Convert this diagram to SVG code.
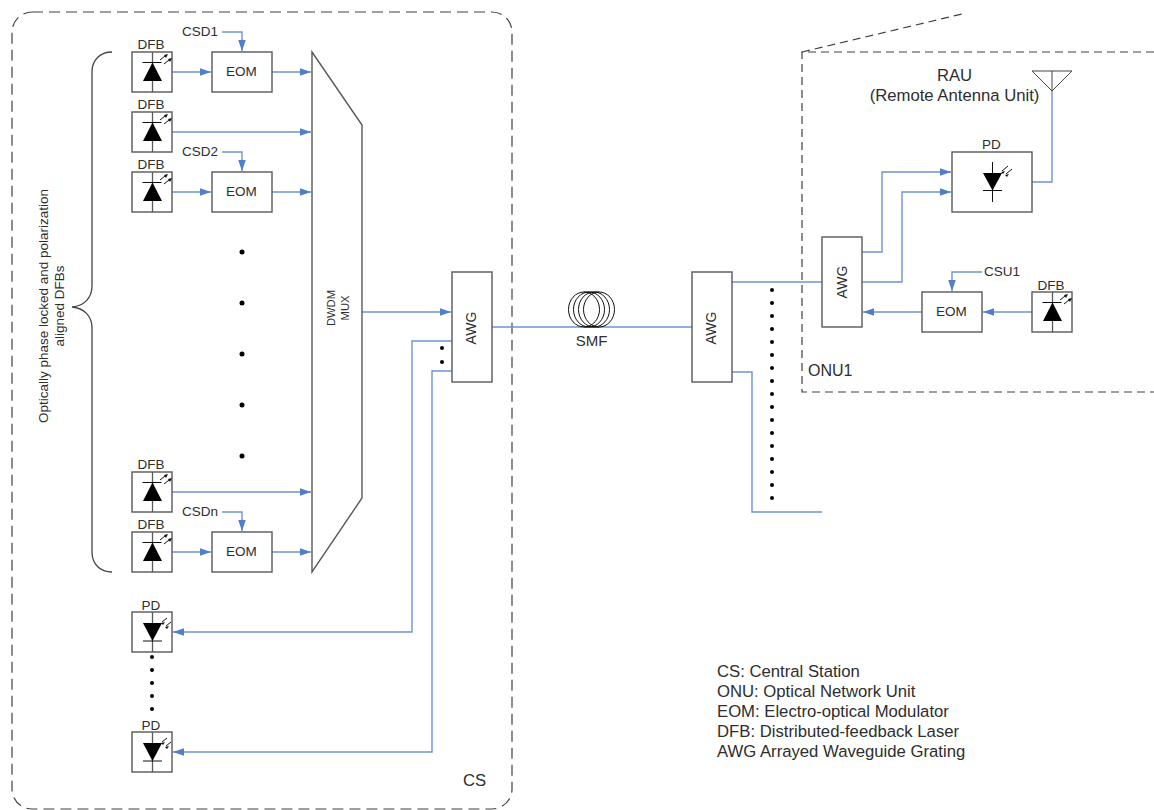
<svg xmlns="http://www.w3.org/2000/svg" xmlns:xlink="http://www.w3.org/1999/xlink" width="1154" height="810" viewBox="0 0 1154 810">
<style>
text{font-family:"Liberation Sans",Arial,sans-serif;fill:#2e2e2e}
.box{fill:#fff;stroke:#595959;stroke-width:1.4}
.dash{fill:none;stroke:#404040;stroke-width:1.2}
.d1{stroke-dasharray:11 6}
.d2{stroke-dasharray:8 5}
.c{fill:none;stroke:#6d94d2;stroke-width:1.4}
.a{marker-end:url(#arr)}
.s12{font-size:13.5px}
.s14{font-size:14px}
.s15{font-size:15px}
.s16{font-size:16.7px}
.m{text-anchor:middle}
.sym{stroke:#111;stroke-width:1;fill:none}
.dot{fill:#000}
</style>
<defs>
<marker id="arr" markerUnits="userSpaceOnUse" markerWidth="12" markerHeight="8" refX="11" refY="4" orient="auto"><path d="M0 0.2L11 4L0 7.8z" fill="#4f7fcb"/></marker>
<g id="dfb">
<rect class="box" width="40" height="40"/>
<path d="M20.5 0V40" stroke="#595959" stroke-width="1.3"/>
<path d="M10.5 10.5H29.5" class="sym"/><path d="M20.5 10.5L30 29H11z" fill="#000"/>
<path d="M28 8l5-4M32 12l5-4" stroke="#111" stroke-width="1"/>
<path d="M36 2l-4 1l2 3zM40 6l-4 1l2 3z" fill="#111"/>
</g>
<g id="pdi">
<rect class="box" width="40" height="40"/>
<path d="M20.5 0V40" stroke="#595959" stroke-width="1.3"/>
<path d="M11 29H30" class="sym"/><path d="M11 11H30L20.5 29z" fill="#000"/>
<path d="M30 10l5-4M34 14l5-4" stroke="#111" stroke-width="1"/>
<path d="M29 11l4-1l-2 3zM33 15l4-1l-2 3z" fill="#111"/>
</g>
<g id="eom"><rect class="box" width="60" height="40"/><text class="s12 m" x="29.5" y="24">EOM</text></g>
</defs>

<g id="cs-boundary"><rect class="dash d1" x="12" y="12" width="500" height="797" rx="20"/><text class="s16" x="463" y="786">CS</text></g>
<g id="onu-boundary"><path class="dash d2" d="M1154 52H802V392H1154"/><path class="dash d2" d="M802 52L962 14"/><text class="s16" x="808" y="376" style="font-size:16px">ONU1</text></g>

<g id="connectors">
<path class="c a" d="M172 72H211"/><path class="c a" d="M272 72H311"/>
<path class="c a" d="M172 132H311"/>
<path class="c a" d="M172 192H211"/><path class="c a" d="M272 192H311"/>
<path class="c a" d="M172 492H311"/>
<path class="c a" d="M172 552H211"/><path class="c a" d="M272 552H311"/>
<path class="c a" d="M222 32H242V51"/><path class="c a" d="M222 152H242V171"/><path class="c a" d="M222 512H242V531"/>
<path class="c a" d="M362 312H451"/>
<path class="c" d="M492 327H692"/>
<path class="c a" d="M452 341H412V632H173"/>
<path class="c a" d="M452 371H432V752H173"/>
<path class="c" d="M732 282H822"/>
<path class="c" d="M732 372H752V512H822"/>
<path class="c a" d="M862 252H882V172H951"/>
<path class="c a" d="M862 282H902V192H951"/>
<path class="c" d="M1032 182H1052V91"/>
<path class="c a" d="M1032 312H983"/>
<path class="c a" d="M922 312H863"/>
<path class="c a" d="M982 272H952V291"/>
</g>

<g id="brace"><path d="M112 52C100 52 92 60 92 72V286C92 298 84 306 72 307C84 308 92 316 92 328V552C92 564 100 572 112 572" fill="none" stroke="#444" stroke-width="1.3"/></g>
<text class="s12 m" transform="translate(48 306) rotate(-90)"><tspan x="0" y="0">Optically phase locked and polarization</tspan><tspan x="0" y="16">aligned DFBs</tspan></text>

<g id="dfb1"><use xlink:href="#dfb" href="#dfb" x="132" y="52"/><text class="s12 m" x="151" y="49">DFB</text></g>
<g id="dfb2"><use xlink:href="#dfb" href="#dfb" x="132" y="112"/><text class="s12 m" x="151" y="109">DFB</text></g>
<g id="dfb3"><use xlink:href="#dfb" href="#dfb" x="132" y="172"/><text class="s12 m" x="151" y="169">DFB</text></g>
<g id="dfb4"><use xlink:href="#dfb" href="#dfb" x="132" y="472"/><text class="s12 m" x="151" y="469">DFB</text></g>
<g id="dfb5"><use xlink:href="#dfb" href="#dfb" x="132" y="532"/><text class="s12 m" x="151" y="529">DFB</text></g>
<g id="eom1"><use xlink:href="#eom" href="#eom" x="212" y="52"/></g>
<g id="eom2"><use xlink:href="#eom" href="#eom" x="212" y="172"/></g>
<g id="eom3"><use xlink:href="#eom" href="#eom" x="212" y="532"/></g>
<text class="s12" x="182" y="36">CSD1</text>
<text class="s12" x="182" y="156">CSD2</text>
<text class="s12" x="182" y="516">CSDn</text>

<g id="mux"><path class="box" d="M312 52L362 125V498L312 572z"/><text class="m" font-size="11.2" transform="translate(335 308) rotate(-90)"><tspan x="0" y="0">DWDM</tspan><tspan x="0" y="14">MUX</tspan></text></g>

<g id="dots-col">
<circle class="dot" cx="242" cy="252" r="2.5"/><circle class="dot" cx="242" cy="303" r="2.5"/><circle class="dot" cx="242" cy="354" r="2.5"/><circle class="dot" cx="242" cy="405" r="2.5"/><circle class="dot" cx="242" cy="456" r="2.5"/>
</g>
<g id="dots-pd">
<circle class="dot" cx="152" cy="657" r="2"/><circle class="dot" cx="152" cy="670" r="2"/><circle class="dot" cx="152" cy="683" r="2"/><circle class="dot" cx="152" cy="696" r="2"/><circle class="dot" cx="152" cy="709" r="2"/>
</g>
<g id="dots-awg"><circle class="dot" cx="442" cy="348" r="2"/><circle class="dot" cx="442" cy="362" r="2"/></g>
<g id="dots-onu">
<circle class="dot" cx="772" cy="290" r="2"/><circle class="dot" cx="772" cy="303" r="2"/><circle class="dot" cx="772" cy="316" r="2"/><circle class="dot" cx="772" cy="329" r="2"/><circle class="dot" cx="772" cy="342" r="2"/><circle class="dot" cx="772" cy="355" r="2"/><circle class="dot" cx="772" cy="368" r="2"/><circle class="dot" cx="772" cy="381" r="2"/><circle class="dot" cx="772" cy="394" r="2"/><circle class="dot" cx="772" cy="407" r="2"/><circle class="dot" cx="772" cy="420" r="2"/><circle class="dot" cx="772" cy="433" r="2"/><circle class="dot" cx="772" cy="446" r="2"/><circle class="dot" cx="772" cy="459" r="2"/><circle class="dot" cx="772" cy="472" r="2"/><circle class="dot" cx="772" cy="485" r="2"/><circle class="dot" cx="772" cy="498" r="2"/>
</g>

<g id="pd1"><use xlink:href="#pdi" href="#pdi" x="132" y="612"/><text class="s12 m" x="151" y="610">PD</text></g>
<g id="pd2"><use xlink:href="#pdi" href="#pdi" x="132" y="732"/><text class="s12 m" x="151" y="730">PD</text></g>

<g id="awg1"><rect class="box" x="452" y="272" width="40" height="110"/><text class="s14 m" transform="translate(476 328) rotate(-90)">AWG</text></g>
<g id="awg2"><rect class="box" x="692" y="272" width="40" height="110"/><text class="s14 m" transform="translate(716 328) rotate(-90)">AWG</text></g>

<g id="smf">
<path d="M584 292H599M584 327H599" stroke="#333" fill="none"/>
<ellipse class="sym" cx="584" cy="309.5" rx="15.5" ry="17.5"/>
<ellipse class="sym" cx="589" cy="309.5" rx="15.5" ry="17.5"/>
<ellipse class="sym" cx="594" cy="309.5" rx="15.5" ry="17.5"/>
<ellipse class="sym" cx="599" cy="309.5" rx="15.5" ry="17.5"/>
<text class="s15 m" x="591.5" y="346">SMF</text>
</g>

<g id="awg3"><rect class="box" x="822" y="237" width="40" height="90"/><text class="s14 m" transform="translate(847 282) rotate(-90)">AWG</text></g>
<g id="pd3"><rect class="box" x="952" y="152" width="80" height="60"/>
<path d="M992.5 162V202M983 190.5H1002" stroke="#111" stroke-width="1" fill="none"/><path d="M983 173H1002L992.5 190.5z" fill="#000"/>
<path d="M1002 171l6-5M1006 174l6-5" stroke="#111" stroke-width="1"/><path d="M1001 172l4-1l-2 3zM1005 175l4-1l-2 3z" fill="#111"/>
<text class="s12 m" x="991.5" y="149">PD</text></g>
<g id="antenna"><path d="M1032 71H1072L1052 91z" fill="#fff" stroke="#444"/><path d="M1052 71V91" stroke="#444"/></g>
<text class="s16 m" x="954.5" y="81">RAU</text>
<text class="s16 m" x="954.5" y="101">(Remote Antenna Unit)</text>
<g id="eom4"><use xlink:href="#eom" href="#eom" x="922" y="292"/></g>
<g id="dfb6"><use xlink:href="#dfb" href="#dfb" x="1032" y="292"/><text class="s12 m" x="1051" y="290">DFB</text></g>
<text class="s12" x="984" y="276">CSU1</text>

<g id="legend" class="s16">
<text x="717" y="676.5">CS: Central Station</text>
<text x="717" y="696.5">ONU: Optical Network Unit</text>
<text x="717" y="716.5">EOM: Electro-optical Modulator</text>
<text x="717" y="736.5">DFB: Distributed-feedback Laser</text>
<text x="717" y="756.5">AWG Arrayed Waveguide Grating</text>
</g>
</svg>
